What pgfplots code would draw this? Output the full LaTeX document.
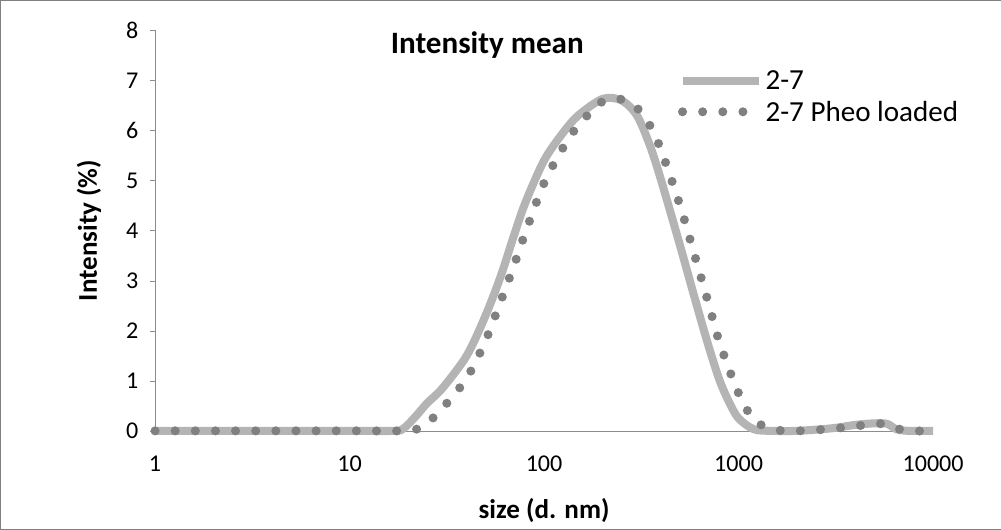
\documentclass[border=0pt]{standalone}
\usepackage{pgfplots}
\pgfplotsset{compat=1.18}
\usepackage{fontspec}
\setmainfont{Carlito}
\begin{document}
\begin{tikzpicture}[x=1bp,y=1bp]
\begin{axis}[
  scale only axis, width=773bp, height=398bp,
  xmode=log, xmin=1, xmax=10000, ymin=0, ymax=8,
  log basis x=10,
  xtick={1,10,100,1000,10000}, xticklabels={1,10,100,1000,10000},
  ytick={0,1,...,8},
  minor xtick={},
  axis x line*=bottom, axis y line*=left,
  tick align=outside, major tick length=5bp,
  xtick style={draw=none},
  axis line style={black!45},
  tick style={black!45},
  tick label style={font=\fontsize{24}{28}\selectfont},
  xticklabel style={yshift=-16bp},
  yticklabel style={xshift=-8bp},
  label style={font=\bfseries\fontsize{27}{32}\selectfont},
  xlabel={size (d. nm)}, ylabel={Intensity (\%)},
  xlabel style={yshift=-20bp}, ylabel style={yshift=18bp},
  /pgf/number format/assume math mode=true,
  legend style={draw=none, at={(0.668,0.91)}, anchor=north west, fill=none, cells={anchor=west}, font=\fontsize{29}{34}\selectfont, row sep=6bp},
  legend image code/.code={\draw[#1] (0bp,0bp) -- (76bp,0bp);},
  clip=false,
]
\addplot[smooth, line width=8bp, color={rgb,255:red,180;green,180;blue,180}] coordinates {
(1,0) (5,0) (10,0) (17,0) (19,0.05) (22,0.3) (25,0.55) (30,0.85) (40,1.5) (50,2.3) (60,3.1) (70,3.9) (80,4.55) (100,5.4) (125,5.95) (150,6.3) (200,6.63) (250,6.6) (300,6.3) (350,5.7) (400,5.0) (500,3.7) (600,2.6) (700,1.7) (800,1.0) (900,0.55) (1000,0.25) (1200,0.03) (1500,0) (2000,0) (3000,0.05) (4000,0.12) (5000,0.15) (5800,0.14) (6500,0.03) (7500,0) (10000,0)};
\addlegendentry{2-7}
\addplot[smooth, line width=9bp, dash pattern=on 0bp off 20bp, line cap=round, color={rgb,255:red,128;green,128;blue,128}] coordinates {
(1,0) (5,0) (10,0) (19,0) (22,0.03) (25,0.15) (30,0.45) (40,1.05) (50,1.8) (60,2.6) (70,3.3) (80,3.95) (100,4.95) (125,5.65) (150,6.1) (200,6.58) (250,6.62) (300,6.45) (350,6.1) (400,5.6) (500,4.5) (600,3.45) (700,2.55) (800,1.75) (1000,0.75) (1200,0.22) (1500,0.03) (2000,0) (3000,0.04) (4000,0.1) (5000,0.12) (5600,0.15) (6500,0.05) (7500,0) (10000,0)};
\addlegendentry{2-7 Pheo loaded}
\node[font=\bfseries\fontsize{31}{36}\selectfont] at (rel axis cs:0.427,0.962) {Intensity mean};
\draw[black!50] (rel axis cs:-0.199,-0.246) rectangle (rel axis cs:1.087,1.075);
\end{axis}
\end{tikzpicture}
\end{document}
